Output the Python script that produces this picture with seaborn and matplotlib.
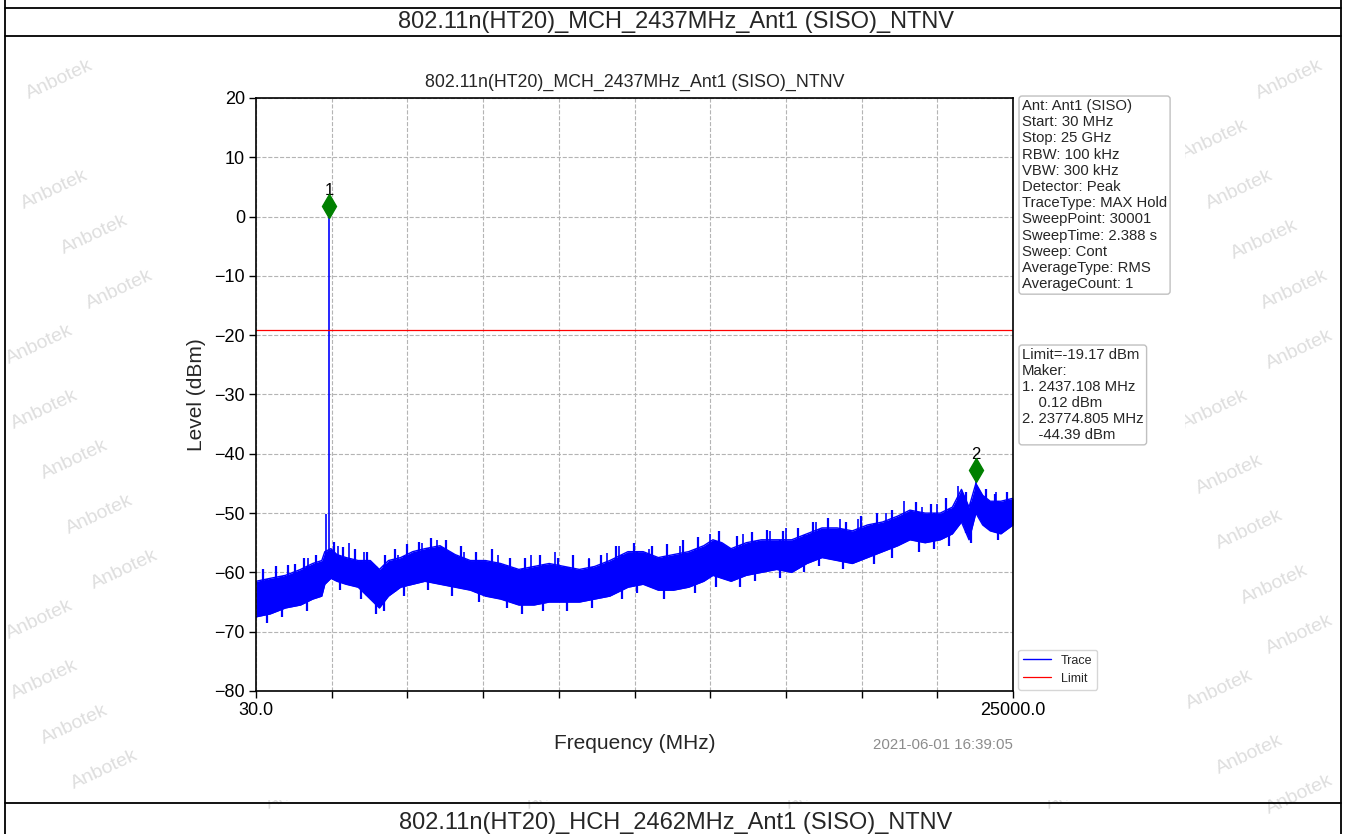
import numpy as np
import matplotlib
matplotlib.use("Agg")
import matplotlib.pyplot as plt
import seaborn as sns
from matplotlib.lines import Line2D
from matplotlib.patches import Rectangle

# ---------------- data ----------------
freq_mhz = [30, 500, 1000, 1500, 1900, 2200, 2300, 2500, 2700, 3000, 3400, 3800,
            4100, 4400, 4800, 5200, 5600, 6100, 6600, 7100, 7600, 8100, 8700,
            9200, 9700, 10200, 10700, 11200, 11700, 12300, 12800, 13300, 13800,
            14300, 14800, 15100, 15400, 15700, 16200, 16700, 17200, 17700,
            18200, 18700, 19200, 19700, 20200, 20700, 21200, 21600, 22100,
            22600, 23000, 23300, 23550, 23775, 24000, 24250, 24600, 25000]
trace_hi = [-61.5, -61, -60.5, -59.5, -58.5, -58, -56.5, -56, -57, -57.5, -58, -58,
            -59.5, -58, -57.5, -56.5, -56, -55.5, -57, -58, -58, -58.5, -59.5,
            -59, -58.5, -59, -59.5, -59, -58, -56.5, -56.5, -57.5, -57,
            -56.5, -55.5, -54.5, -55, -56, -55, -54.5, -54.5, -54.5,
            -53.5, -52.5, -52.5, -53, -52, -51.5, -50.5, -49.5, -50,
            -50, -49, -46, -49, -45, -47, -48, -48, -47.5]
trace_lo = [-67.5, -67, -66, -65.5, -64.5, -64, -62, -61, -61.5, -62, -62.5, -64.5,
            -66, -64, -62.5, -62, -61.5, -62, -62.5, -63, -64, -64.5, -65.5,
            -65.5, -65, -65, -65, -64.5, -64, -62.5, -62, -63, -63,
            -62.5, -61.5, -60.5, -61, -61.5, -60.5, -60, -59.5, -60,
            -58.5, -57.5, -58, -58.5, -57.5, -56.5, -55.5, -54.5, -55,
            -54.5, -53.5, -51.5, -54.5, -50, -52, -53, -53.5, -52]
spike_mhz = [700, 1300, 1750, 2330, 2437, 2750, 3100, 3600, 4700, 5500, 6000, 6900,
             8000, 9100, 9900, 11000, 11600, 12000, 13000, 14000, 15000, 16100,
             17000, 17500, 18500, 19300, 19900, 20800, 21400, 22000, 22500, 23200,
             23775, 24450]
spike_dbm = [-59.5, -59, -57.5, -50.2, 0.12, -55.5, -55, -56.5, -57, -55, -54.5, -56.5,
             -57, -57, -56.5, -57.5, -56.8, -55.5, -56, -55.5, -53.5, -53.5,
             -53, -52.5, -51.5, -51, -51, -50, -48, -49, -48.5, -45.5,
             -44.39, -46.5]
up_tick_mhz = [250, 700, 1100, 1300, 1600, 2000, 2600, 2900, 3300, 3700, 4300, 4600,
               5000, 5400, 5800, 6300, 6800, 7300, 7800, 8400, 8900, 9400, 10000,
               10500, 11000, 11400, 11900, 12500, 13100, 13600, 14100, 14600, 15300,
               15900, 16400, 16900, 17400, 17900, 18400, 18900, 19500, 20000, 20500,
               21000, 21800, 22300, 22800, 23450, 24100, 24400, 24800]
up_tick_dbm = [-59.5, -59, -58.8, -58.5, -57.5, -57, -54.8, -55.8, -56, -56.5, -57, -56,
               -55.2, -54.8, -54.2, -54.5, -55.5, -56.5, -56, -57.5, -57.5, -57, -57.5,
               -57, -57.8, -57, -55.5, -55, -55.5, -55.2, -54.5, -54, -53,
               -53.8, -53.2, -52.8, -53, -52.5, -51.5, -50.8, -51.5, -50.5, -50,
               -49.5, -48.2, -48.5, -47.5, -46.5, -46, -46.8, -46.5]
dn_tick_mhz = [400, 900, 1700, 2800, 3500, 4000, 4250, 4900, 5700, 6500, 7400, 8300,
               8800, 9500, 10300, 11100, 12100, 12600, 13500, 14500, 15200, 16000,
               16500, 17300, 18100, 18600, 19400, 20400, 21000, 21900, 22400, 22900,
               23600, 24500]
dn_tick_dbm = [-68.5, -67.5, -66.5, -63, -64.5, -67, -66.5, -64, -63, -64, -65, -66,
               -67, -66.5, -66.5, -66, -64.5, -63.5, -64.5, -63.5, -62.5, -62.5,
               -61.5, -61, -60, -59, -59.5, -58.5, -57.5, -56.5, -56, -55.5,
               -55, -54.5]
marker_mhz = [2437.108, 23774.805]
marker_dbm = [0.12, -44.39]
marker_ids = ["1", "2"]
limit_dbm = -19.17
x_min, x_max = 30.0, 25000.0
y_ticks = [20, 10, 0, -10, -20, -30, -40, -50, -60, -70, -80]
title = "802.11n(HT20)_MCH_2437MHz_Ant1 (SISO)_NTNV"
next_title = "802.11n(HT20)_HCH_2462MHz_Ant1 (SISO)_NTNV"
info_lines = ["Ant: Ant1 (SISO)", "Start: 30 MHz", "Stop: 25 GHz", "RBW: 100 kHz",
              "VBW: 300 kHz", "Detector: Peak", "TraceType: MAX Hold",
              "SweepPoint: 30001", "SweepTime: 2.388 s", "Sweep: Cont",
              "AverageType: RMS", "AverageCount: 1"]
marker_lines = ["Limit=-19.17 dBm", "Maker:", "1. 2437.108 MHz", "    0.12 dBm",
                "2. 23774.805 MHz", "    -44.39 dBm"]
timestamp = "2021-06-01 16:39:05"

# ---------------- style ----------------
sns.set_theme(style="ticks")
plt.rcParams["font.family"] = ["Liberation Sans", "DejaVu Sans"]
plt.rcParams["axes.unicode_minus"] = True

W, H = 1346, 834
fig = plt.figure(figsize=(W / 100, H / 100), dpi=100)
fig.patch.set_facecolor("white")


def fx(px):
    return px / W


def fy(py):
    return 1 - py / H


# watermarks on the page background
wm_pos = [(60, 80), (55, 190), (95, 235), (120, 290), (40, 345), (45, 410), (75, 460),
          (100, 515), (125, 570), (40, 620), (45, 680), (75, 725), (105, 770),
          (1290, 80), (1215, 140), (1240, 190), (1265, 240), (1295, 290),
          (1300, 350), (1215, 410), (1230, 475), (1250, 530), (1275, 585),
          (1300, 635), (1220, 690), (1250, 755), (1300, 795),
          (300, 790), (560, 790), (820, 790), (1080, 790)]
for (px, py) in wm_pos:
    fig.text(fx(px), fy(py), "Anbotek", rotation=25, fontsize=14, color="#dedede",
             ha="center", va="center", zorder=0)

# white chart-image area covering the watermarks
fig.patches.append(Rectangle((fx(160), fy(800)), fx(1185) - fx(160), fy(40) - fy(800),
                             transform=fig.transFigure, facecolor="white",
                             edgecolor="none", zorder=0.5))

# frame lines of the report table
for py in (8, 36, 803):
    fig.add_artist(Line2D([fx(5), fx(1341)], [fy(py), fy(py)], color="black", lw=1.3,
                          transform=fig.transFigure, zorder=3))
for px in (5, 1341):
    fig.add_artist(Line2D([fx(px), fx(px)], [0, 1], color="black", lw=1.3,
                          transform=fig.transFigure, zorder=3))

fig.text(fx(676), fy(22), title, fontsize=17, ha="center", va="center", zorder=4)
fig.text(fx(676), fy(823), next_title, fontsize=17, ha="center", va="center", zorder=4)

# ---------------- axes ----------------
ax = fig.add_axes([fx(256), fy(691), fx(1013) - fx(256), fy(98) - fy(691)])
ax.set_zorder(2)
ax.set_facecolor("white")

sns.lineplot(x=freq_mhz, y=trace_hi, ax=ax, color="blue", lw=1.0, estimator=None,
             sort=False, label="Trace")
sns.lineplot(x=freq_mhz, y=trace_lo, ax=ax, color="blue", lw=1.0, estimator=None,
             sort=False)
ax.fill_between(freq_mhz, trace_lo, trace_hi, color="blue", lw=0)
spike_base = np.interp(spike_mhz, freq_mhz, trace_lo)
ax.vlines(spike_mhz, spike_base, spike_dbm, color="blue", lw=1.2)
up_base = np.interp(up_tick_mhz, freq_mhz, trace_lo)
ax.vlines(up_tick_mhz, up_base, up_tick_dbm, color="blue", lw=1.6)
dn_base = np.interp(dn_tick_mhz, freq_mhz, trace_hi)
ax.vlines(dn_tick_mhz, dn_base, dn_tick_dbm, color="blue", lw=1.6)
ax.axhline(limit_dbm, color="red", lw=0.9, label="Limit")

for f, v, t in zip(marker_mhz, marker_dbm, marker_ids):
    ax.plot([f], [v + 1.6], marker="d", color="green", markersize=12, ls="none",
            zorder=5)
    ax.text(f, v + 3.0, t, ha="center", va="bottom", fontsize=12, color="black")

ax.set_xlim(x_min, x_max)
ax.set_ylim(-80, 20)
ax.set_yticks(y_ticks)
ax.set_yticklabels([f"{v}".replace("-", "\u2212") for v in y_ticks])
xt = np.linspace(x_min, x_max, 11)
ax.set_xticks(xt)
ax.set_xticklabels([f"{x_min:.1f}"] + [""] * 9 + [f"{x_max:.1f}"])
ax.tick_params(axis="both", labelsize=13, length=5, width=1, direction="out",
               colors="black", pad=3)
ax.grid(True, color="#b4b4b4", ls="--", lw=0.8)
for s in ax.spines.values():
    s.set_visible(True)
    s.set_color("black")
    s.set_linewidth(1.2)
ax.set_title(title, fontsize=12.8, pad=8)
ax.set_xlabel("Frequency (MHz)", fontsize=15, labelpad=11)
ax.set_ylabel("Level (dBm)", fontsize=15, labelpad=6)

leg = ax.legend(loc="lower left", bbox_to_anchor=(1.005, 0.0), fontsize=9,
                frameon=True, handlelength=2.2, borderaxespad=0.1)
leg.get_frame().set_edgecolor("#cccccc")

box = dict(boxstyle="round,pad=0.2", facecolor="white", edgecolor="#c0c0c0", lw=1)
fig.text(fx(1022), fy(99), "\n".join(info_lines), fontsize=10.7, va="top", ha="left",
         bbox=box, linespacing=1.2, zorder=4)
fig.text(fx(1022), fy(348), "\n".join(marker_lines), fontsize=10.7, va="top", ha="left",
         bbox=box, linespacing=1.18, zorder=4)
fig.text(fx(1013), fy(745), timestamp, fontsize=10.8, color="#8c8c8c", ha="right",
         va="center")

fig.savefig("out.png", dpi=100)
